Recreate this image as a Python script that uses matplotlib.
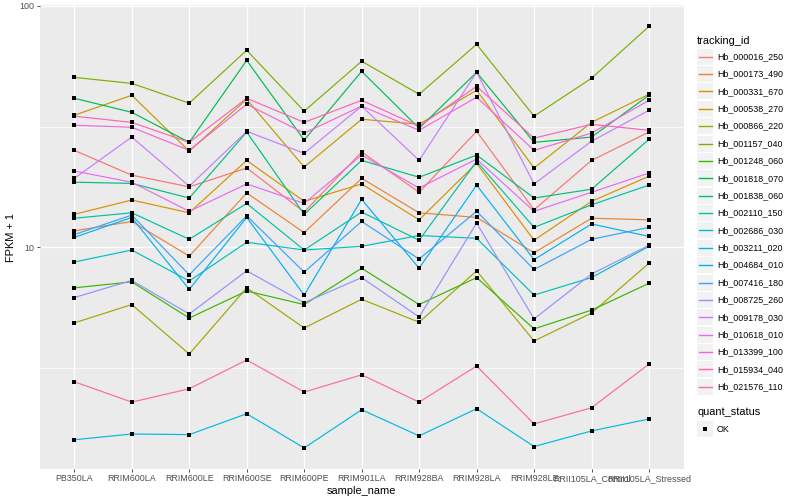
import numpy as np
import matplotlib
matplotlib.use("Agg")
import matplotlib.pyplot as plt
from matplotlib.lines import Line2D
from matplotlib.patches import Rectangle

plt.rcParams['font.family'] = ['Liberation Sans', 'DejaVu Sans']

# samples on the x axis
samples = ["PB350LA", "RRIM600LA", "RRIM600LE", "RRIM600SE", "RRIM600PE",
           "RRIM901LA", "RRIM928BA", "RRIM928LA", "RRIM928LE",
           "RRII105LA_Control", "RRII105LA_Stressed"]

# FPKM + 1 per gene
hb_000016_250 = [25.2, 19.9, 17.8, 21.3, 14.0, 24.8, 16.9, 30.2, 14.3, 22.9, 30.0]
hb_000173_490 = [11.7, 12.8, 9.2, 16.8, 11.5, 19.3, 13.9, 13.3, 9.5, 13.2, 13.0]
hb_000331_670 = [13.7, 15.7, 13.9, 22.9, 15.5, 18.3, 13.0, 22.3, 10.7, 15.5, 19.7]
hb_000538_270 = [35.2, 42.6, 25.0, 41.0, 21.5, 33.9, 32.3, 44.7, 21.3, 32.9, 43.0]
hb_000866_220 = [4.87, 5.8, 3.62, 6.8, 4.64, 6.1, 4.9, 8.0, 4.1, 5.35, 8.6]
hb_001157_040 = [50.5, 47.7, 39.5, 65.4, 36.6, 58.9, 43.0, 69.2, 34.9, 50.1, 82.1]
hb_001248_060 = [6.8, 7.2, 5.1, 6.6, 5.8, 8.2, 5.8, 7.5, 4.6, 5.5, 7.1]
hb_001818_070 = [41.4, 36.2, 27.2, 59.4, 27.8, 53.5, 31.1, 53.0, 27.2, 28.6, 42.6]
hb_001838_060 = [18.6, 18.4, 16.0, 30.0, 13.7, 22.9, 19.5, 24.1, 16.0, 17.4, 28.0]
hb_002110_150 = [13.2, 13.9, 10.8, 15.2, 9.75, 14.0, 10.7, 22.7, 12.1, 15.0, 18.1]
hb_002686_030 = [8.7, 9.75, 7.26, 10.5, 9.75, 10.1, 11.2, 10.9, 6.35, 7.5, 10.1]
hb_003211_020 = [1.60, 1.69, 1.68, 2.05, 1.48, 2.13, 1.66, 2.15, 1.50, 1.74, 1.95]
hb_004684_010 = [11.0, 13.3, 6.7, 13.3, 6.35, 15.8, 8.2, 18.1, 8.9, 12.5, 11.1]
hb_007416_180 = [11.3, 13.6, 7.7, 13.5, 7.9, 12.8, 8.95, 14.1, 8.1, 10.8, 12.1]
hb_008725_260 = [6.2, 7.3, 5.3, 8.0, 5.9, 7.5, 5.15, 12.6, 5.06, 7.76, 10.2]
hb_009178_030 = [19.3, 28.6, 17.9, 30.2, 24.5, 38.4, 22.9, 53.0, 18.3, 27.5, 36.9]
hb_010618_010 = [20.7, 18.6, 14.1, 18.3, 15.2, 24.1, 17.6, 23.2, 14.1, 16.9, 20.3]
hb_013399_100 = [32.0, 31.4, 25.2, 39.1, 29.7, 38.4, 30.5, 41.8, 25.2, 29.7, 40.6]
hb_015934_040 = [34.9, 32.9, 27.2, 41.4, 32.9, 40.6, 31.7, 46.4, 28.3, 32.3, 30.5]
hb_021576_110 = [2.78, 2.29, 2.60, 3.42, 2.52, 2.97, 2.29, 3.23, 1.86, 2.17, 3.29]

tracking_ids = ["Hb_000016_250", "Hb_000173_490", "Hb_000331_670", "Hb_000538_270",
                "Hb_000866_220", "Hb_001157_040", "Hb_001248_060", "Hb_001818_070",
                "Hb_001838_060", "Hb_002110_150", "Hb_002686_030", "Hb_003211_020",
                "Hb_004684_010", "Hb_007416_180", "Hb_008725_260", "Hb_009178_030",
                "Hb_010618_010", "Hb_013399_100", "Hb_015934_040", "Hb_021576_110"]
series = [hb_000016_250, hb_000173_490, hb_000331_670, hb_000538_270, hb_000866_220,
          hb_001157_040, hb_001248_060, hb_001818_070, hb_001838_060, hb_002110_150,
          hb_002686_030, hb_003211_020, hb_004684_010, hb_007416_180, hb_008725_260,
          hb_009178_030, hb_010618_010, hb_013399_100, hb_015934_040, hb_021576_110]

# ggplot2 default hue palette for 20 levels
colors = ["#F8766D", "#EA8331", "#D89000", "#C09B00", "#A3A500", "#7CAE00", "#39B600",
          "#00BB4E", "#00BF7D", "#00C1A3", "#00BFC4", "#00BAE0", "#00B0F6", "#35A2FF",
          "#9590FF", "#C77CFF", "#E76BF3", "#FA62DB", "#FF62BC", "#FF6C91"]

W, H = 800, 500
fig = plt.figure(figsize=(8, 5), dpi=100)
fig.patch.set_facecolor("white")
ax = fig.add_axes([39.8 / W, 1 - 469 / H, (683.5 - 39.8) / W, (469 - 5.3) / H])
ax.set_facecolor("#EBEBEB")

x = np.arange(len(samples))
for vals, col in zip(series, colors):
    ax.plot(x, vals, color=col, lw=0.85, zorder=3)
for vals in series:
    ax.plot(x, vals, ls="none", marker="s", ms=2.8, mew=0, color="black", zorder=4)

ax.set_yscale("log")
allv = np.log10(np.concatenate([np.array(s) for s in series]))
lo, hi = allv.min(), allv.max()
pad = (hi - lo) * 0.05
ax.set_ylim(10 ** (lo - pad), 10 ** (hi + pad))
ax.set_xlim(-0.6, len(samples) - 0.4)

ax.set_xticks(x)
ax.set_xticklabels(samples)
ax.set_yticks([10, 100])
ax.set_yticklabels(["10", "100"])
ax.set_yticks([10 ** 0.5, 10 ** 1.5], minor=True)
ax.yaxis.set_minor_formatter(matplotlib.ticker.NullFormatter())
ax.tick_params(axis="both", which="major", length=2, width=0.6, color="#333333",
               labelsize=6.4, labelcolor="#4D4D4D", pad=1.6)
ax.tick_params(axis="y", which="minor", length=0)
ax.grid(True, which="major", color="white", lw=1.0, zorder=0)
ax.grid(True, which="minor", axis="y", color="white", lw=0.5, zorder=0)
ax.set_axisbelow(True)
for sp in ax.spines.values():
    sp.set_visible(False)

ax.set_xlabel("sample_name", fontsize=7.9, labelpad=2.5)
ax.set_ylabel("FPKM + 1", fontsize=7.9, labelpad=3)


def fx(px):
    return px / W


def fy(py):
    return 1 - py / H


# legend: tracking_id
fig.text(fx(697), fy(40.7), "tracking_id", fontsize=7.9, va="center", ha="left")
step = 17.37
for i, (name, col) in enumerate(zip(tracking_ids, colors)):
    yc = 56.7 + step * i
    fig.add_artist(Rectangle((fx(697), fy(yc + 8)), 16 / W, 16 / H,
                             transform=fig.transFigure, facecolor="#F2F2F2",
                             edgecolor="none"))
    fig.add_artist(Line2D([fx(698.5), fx(711.5)], [fy(yc), fy(yc)],
                          transform=fig.transFigure, color=col, lw=1.0))
    fig.text(fx(717), fy(yc), name, fontsize=6.4, va="center", ha="left")

# legend: quant_status
fig.text(fx(697), fy(412.3), "quant_status", fontsize=7.9, va="center", ha="left")
fig.add_artist(Rectangle((fx(697), fy(429.3 + 8)), 16 / W, 16 / H,
                         transform=fig.transFigure, facecolor="#F2F2F2",
                         edgecolor="none"))
fig.add_artist(Line2D([fx(705)], [fy(429.3)], transform=fig.transFigure,
                      ls="none", marker="s", ms=2.8, mew=0, color="black"))
fig.text(fx(717), fy(429.3), "OK", fontsize=6.4, va="center", ha="left")

fig.savefig("out.png", dpi=100)
